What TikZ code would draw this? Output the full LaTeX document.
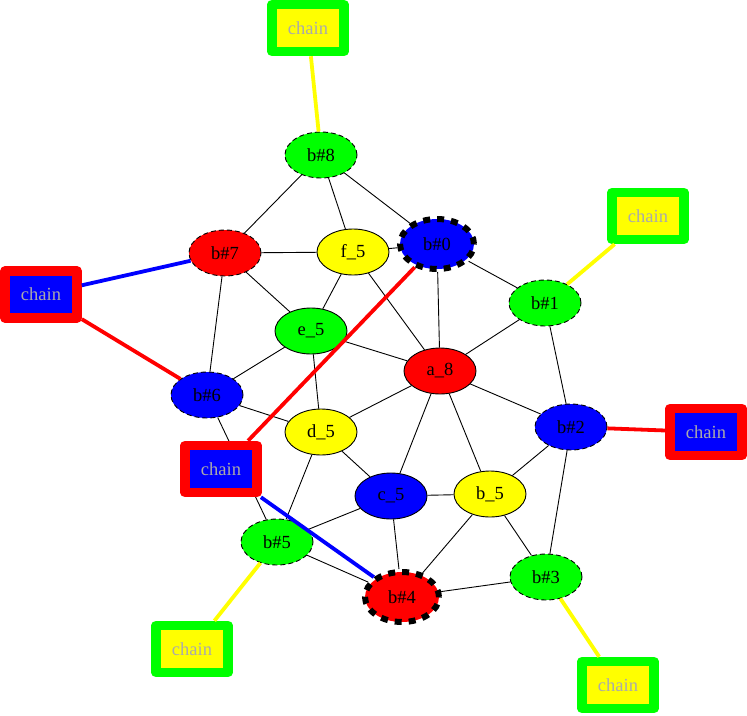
\documentclass[tikz,border=0pt]{standalone}
\usepackage{fontspec}
\setmainfont{Liberation Serif}
\usetikzlibrary{shapes.geometric}
\pgfdeclarelayer{background}
\pgfsetlayers{background,main}
\definecolor{cgreen}{RGB}{0,255,0}
\definecolor{cred}{RGB}{255,0,0}
\definecolor{cblue}{RGB}{0,0,255}
\definecolor{cyellow}{RGB}{255,255,0}
\definecolor{cgray}{RGB}{170,170,170}
\tikzset{
  vert/.style={ellipse, draw=black, line width=0.9pt, minimum width=72pt, minimum height=46pt, inner sep=0pt, font=\fontsize{18.5}{20}\selectfont},
  thindash/.style={dash pattern=on 5pt off 3pt},
  thickdash/.style={line width=6pt, minimum width=74pt, minimum height=50pt, dash pattern=on 7pt off 7pt},
  chainbox/.style={rectangle, line width=9.5pt, line join=round, minimum width=72pt, minimum height=47pt, inner sep=0pt, text=cgray, font=\fontsize{18.5}{20}\selectfont},
  ed/.style={draw=black, line width=0.9pt},
  ced/.style={line width=3.8pt},
}
\begin{document}
\begin{tikzpicture}[x=1pt,y=-1pt]
\useasboundingbox (0,0) rectangle (747,715);
% nodes
\node[vert, fill=cgreen, thindash] (b8) at (321,155) {b\#8};
\node[vert, fill=cred, thindash] (b7) at (225,253) {b\#7};
\node[vert, fill=cyellow] (f5) at (353,252) {f\_5};
\node[vert, fill=cblue, thickdash] (b0) at (437,244) {b\#0};
\node[vert, fill=cgreen, thindash] (b1) at (545,303) {b\#1};
\node[vert, fill=cgreen] (e5) at (311,331) {e\_5};
\node[vert, fill=cred] (a8) at (440,371) {a\_8};
\node[vert, fill=cblue, thindash] (b6) at (207,395) {b\#6};
\node[vert, fill=cblue, thindash] (b2) at (571,427) {b\#2};
\node[vert, fill=cyellow] (d5) at (321,432) {d\_5};
\node[vert, fill=cblue] (c5) at (391,496) {c\_5};
\node[vert, fill=cyellow] (b5) at (490,494) {b\_5};
\node[vert, fill=cgreen, thindash] (bh5) at (277,542) {b\#5};
\node[vert, fill=cgreen, thindash] (b3) at (546,577) {b\#3};
\node[vert, fill=cred, thickdash] (b4) at (402,597) {b\#4};
% chain boxes
\node[chainbox, draw=cgreen, fill=cyellow] (ch1) at (308,28) {chain};
\node[chainbox, draw=cgreen, fill=cyellow] (ch2) at (648,216) {chain};
\node[chainbox, draw=cred, fill=cblue] (ch3) at (41,294.5) {chain};
\node[chainbox, draw=cred, fill=cblue] (ch4) at (706,432) {chain};
\node[chainbox, draw=cred, fill=cblue] (ch5) at (221,469) {chain};
\node[chainbox, draw=cgreen, fill=cyellow] (ch6) at (192,649) {chain};
\node[chainbox, draw=cgreen, fill=cyellow] (ch7) at (618,685) {chain};
% black edges
\begin{pgfonlayer}{background}
\draw[ed] (b8) -- (b7);
\draw[ed] (b8) -- (f5);
\draw[ed] (b8) -- (b0);
\draw[ed] (b7) -- (f5);
\draw[ed] (f5) -- (b0);
\draw[ed] (b7) -- (e5);
\draw[ed] (b7) -- (b6);
\draw[ed] (f5) -- (e5);
\draw[ed] (f5) -- (a8);
\draw[ed] (b0) -- (b1);
\draw[ed] (b0) -- (a8);
\draw[ed] (b1) -- (a8);
\draw[ed] (b1) -- (b2);
\draw[ed] (e5) -- (b6);
\draw[ed] (e5) -- (a8);
\draw[ed] (e5) -- (d5);
\draw[ed] (b6) -- (d5);
\draw[ed] (b6) -- (bh5);
\draw[ed] (a8) -- (d5);
\draw[ed] (a8) -- (c5);
\draw[ed] (a8) -- (b5);
\draw[ed] (a8) -- (b2);
\draw[ed] (d5) -- (c5);
\draw[ed] (d5) -- (bh5);
\draw[ed] (c5) -- (b5);
\draw[ed] (c5) -- (bh5);
\draw[ed] (c5) -- (b4);
\draw[ed] (b5) -- (b2);
\draw[ed] (b5) -- (b3);
\draw[ed] (b5) -- (b4);
\draw[ed] (b2) -- (b3);
\draw[ed] (b3) -- (b4);
\draw[ed] (bh5) -- (b4);
\end{pgfonlayer}
% coloured edges
\draw[ced, cyellow] (ch1) -- (b8);
\draw[ced, cyellow] (ch2) -- (b1);
\draw[ced, cblue] (ch3) -- (b7);
\draw[ced, cred] (ch3) -- (b6);
\draw[ced, cred] (ch4) -- (b2);
\draw[ced, cred] (ch5) -- (b0);
\draw[ced, cblue] (ch5) -- (b4);
\draw[ced, cyellow] (ch6) -- (bh5);
\draw[ced, cyellow] (ch7) -- (b3);
\end{tikzpicture}
\end{document}
